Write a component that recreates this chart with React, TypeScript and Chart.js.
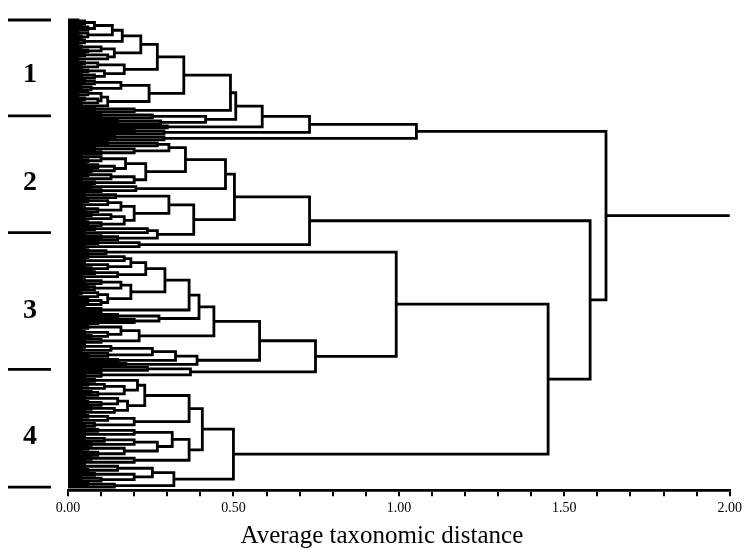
import { useEffect, useRef } from 'react';
import { Chart, registerables } from 'chart.js';

Chart.register(...registerables);

// Merge height between each pair of neighbouring leaves, top to bottom.
// The dendrogram is rebuilt from these: the largest height inside a run of
// leaves is the node that splits that run in two.
const clusterOneGaps = [
  0.03, 0.05, 0.08, 0.04, 0.06, 0.134, 0.03, 0.06, 0.04, 0.164,
  0.05, 0.03, 0.22, 0.04, 0.10, 0.06, 0.14, 0.05, 0.12, 0.03,
  0.27, 0.05, 0.09, 0.04, 0.17, 0.06, 0.11, 0.04, 0.08, 0.35,
  0.05, 0.08, 0.16, 0.04, 0.07, 0.245, 0.06, 0.03, 0.10, 0.05,
  0.09, 0.04, 0.12, 0.491, 0.08, 0.20, 0.507, 0.10, 0.255, 0.416,
  0.15, 0.28, 0.587, 0.30, 0.73, 0.20, 0.29, 1.053, 0.14, 0.29,
];
const clusterTwoGaps = [
  0.12, 0.27, 0.305, 0.08, 0.20, 0.10, 0.355, 0.04, 0.10, 0.06,
  0.174, 0.05, 0.09, 0.14, 0.07, 0.235, 0.06, 0.13, 0.04, 0.20,
  0.08, 0.476, 0.07, 0.205, 0.10, 0.503, 0.05, 0.144, 0.305, 0.06,
  0.12, 0.04, 0.16, 0.05, 0.09, 0.20, 0.07, 0.13, 0.05, 0.17,
  0.06, 0.10, 0.38, 0.08, 0.24, 0.05, 0.27, 0.10, 0.15, 0.73,
  0.09, 0.215, 0.05,
];
const outlierGaps = [0.06, 0.115];
const clusterThreeGaps = [
  0.06, 0.17, 0.05, 0.19, 0.05, 0.12, 0.07, 0.235, 0.08, 0.15,
  0.04, 0.293, 0.05, 0.10, 0.16, 0.06, 0.08, 0.19, 0.04, 0.09,
  0.03, 0.12, 0.06, 0.10, 0.05, 0.366, 0.04, 0.10, 0.396, 0.07,
  0.15, 0.275, 0.20, 0.09, 0.441, 0.06, 0.04, 0.16, 0.05, 0.12,
  0.07, 0.215, 0.10, 0.05, 0.579, 0.05, 0.13, 0.04, 0.255, 0.12,
  0.06, 0.325, 0.15, 0.39, 0.175, 0.748, 0.24, 0.10, 0.37, 0.10,
  0.05,
];
const clusterFourGaps = [
  0.08, 0.21, 0.06, 0.11, 0.04, 0.17, 0.07, 0.09, 0.232,
  0.05, 0.15, 0.06, 0.10, 0.18, 0.07, 0.14, 0.05, 0.366, 0.06,
  0.12, 0.04, 0.20, 0.08, 0.05, 0.406, 0.09, 0.20, 0.05, 0.315,
  0.05, 0.11, 0.20, 0.07, 0.27, 0.06, 0.17, 0.04, 0.09, 0.366,
  0.07, 0.20, 0.05, 0.50, 0.05, 0.15, 0.06, 0.255, 0.08, 0.20,
  0.04, 0.10, 0.32, 0.06, 0.14,
];
// Heights joining the blocks above: 1|2, 2|outlier, outlier|3, 3|4
const joinHeights = [1.626, 1.578, 0.992, 1.451];
const rootLineEnd = 2.0;

// Group brackets on the left, in leaf positions
const groupLabels = ['1', '2', '3', '4'];
const groupBounds = [0, 48, 106.5, 175, 234];

const axisTitle = 'Average taxonomic distance';
const tickStep = 0.1;
const labelStep = 0.5;

const mergeHeights = [
  ...clusterOneGaps, joinHeights[0],
  ...clusterTwoGaps, joinHeights[1],
  ...outlierGaps, joinHeights[2],
  ...clusterThreeGaps, joinHeights[3],
  ...clusterFourGaps,
];
const leafCount = mergeHeights.length + 1;

type Pt = { x: number; y: number };
type TreeNode = { h: number; y: number };

function buildTree(l: number, r: number, out: Pt[][]): TreeNode {
  if (l === r) return { h: 0, y: l };
  let k = l;
  for (let i = l + 1; i < r; i++) if (mergeHeights[i] > mergeHeights[k]) k = i;
  const a = buildTree(l, k, out);
  const b = buildTree(k + 1, r, out);
  const h = mergeHeights[k];
  out.push([
    { x: a.h, y: a.y },
    { x: h, y: a.y },
    { x: h, y: b.y },
    { x: b.h, y: b.y },
  ]);
  return { h, y: (a.y + b.y) / 2 };
}

const FONT = '"Liberation Serif", "Times New Roman", serif';
const LINE_W = 2.8;

const decorPlugin = {
  id: 'groupMarks',
  afterDraw(chart: any) {
    const ctx = chart.ctx as CanvasRenderingContext2D;
    const ys = chart.scales.y;
    const xs = chart.scales.x;
    ctx.save();
    ctx.strokeStyle = '#000';
    ctx.lineWidth = LINE_W;
    groupBounds.forEach((b) => {
      const py = ys.getPixelForValue(b);
      ctx.beginPath();
      ctx.moveTo(8, py);
      ctx.lineTo(51, py);
      ctx.stroke();
    });
    ctx.fillStyle = '#000';
    ctx.font = `bold 28px ${FONT}`;
    ctx.textAlign = 'center';
    ctx.textBaseline = 'middle';
    groupLabels.forEach((t, i) => {
      const a = groupBounds[i];
      const b = groupBounds[i + 1];
      ctx.fillText(t, 30, ys.getPixelForValue(a + (b - a) * 0.57));
    });
    // axis title, set a little left of the axis centre
    ctx.font = `25px ${FONT}`;
    ctx.fillText(axisTitle, (xs.left + xs.right) / 2 - 17, 536);
    ctx.restore();
  },
};

export default function App() {
  const canvasRef = useRef<HTMLCanvasElement | null>(null);

  useEffect(() => {
    const canvas = canvasRef.current;
    if (!canvas) return;
    const segments: Pt[][] = [];
    const root = buildTree(0, leafCount - 1, segments);
    segments.push([
      { x: root.h, y: root.y },
      { x: rootLineEnd, y: root.y },
    ]);

    const datasets = segments.map((pts) => ({
      data: pts,
      showLine: true,
      borderColor: '#000',
      backgroundColor: '#000',
      borderWidth: LINE_W,
      pointRadius: 0,
      tension: 0,
      clip: false as const,
    }));

    const chart = new Chart(canvas, {
      type: 'scatter',
      data: { datasets },
      options: {
        responsive: false,
        animation: false,
        devicePixelRatio: 1,
        events: [],
        layout: { padding: { left: 68, right: 15, top: 19, bottom: 27 } },
        plugins: { legend: { display: false }, tooltip: { enabled: false } },
        scales: {
          x: {
            type: 'linear',
            position: 'bottom',
            min: 0,
            max: 2,
            ticks: {
              stepSize: tickStep,
              autoSkip: false,
              maxRotation: 0,
              color: '#000',
              padding: 4,
              font: { family: FONT, size: 14 },
              callback: (v: any) => {
                const n = Number(v);
                return Math.abs(n / labelStep - Math.round(n / labelStep)) < 1e-6 ? n.toFixed(2) : '';
              },
            },
            grid: { drawOnChartArea: false, drawTicks: true, tickLength: 6, color: '#000', lineWidth: 2 },
            border: { display: true, color: '#000', width: LINE_W },
            title: { display: false },
          },
          y: { type: 'linear', display: false, reverse: true, min: -0.5, max: leafCount + 0.5 },
        },
      },
      plugins: [decorPlugin],
    });
    return () => chart.destroy();
  }, []);

  return (
    <div style={{ position: 'fixed', left: 0, top: 0, width: 746, height: 548, background: '#fff' }}>
      <canvas ref={canvasRef} width={746} height={548} style={{ display: 'block' }} />
    </div>
  );
}
